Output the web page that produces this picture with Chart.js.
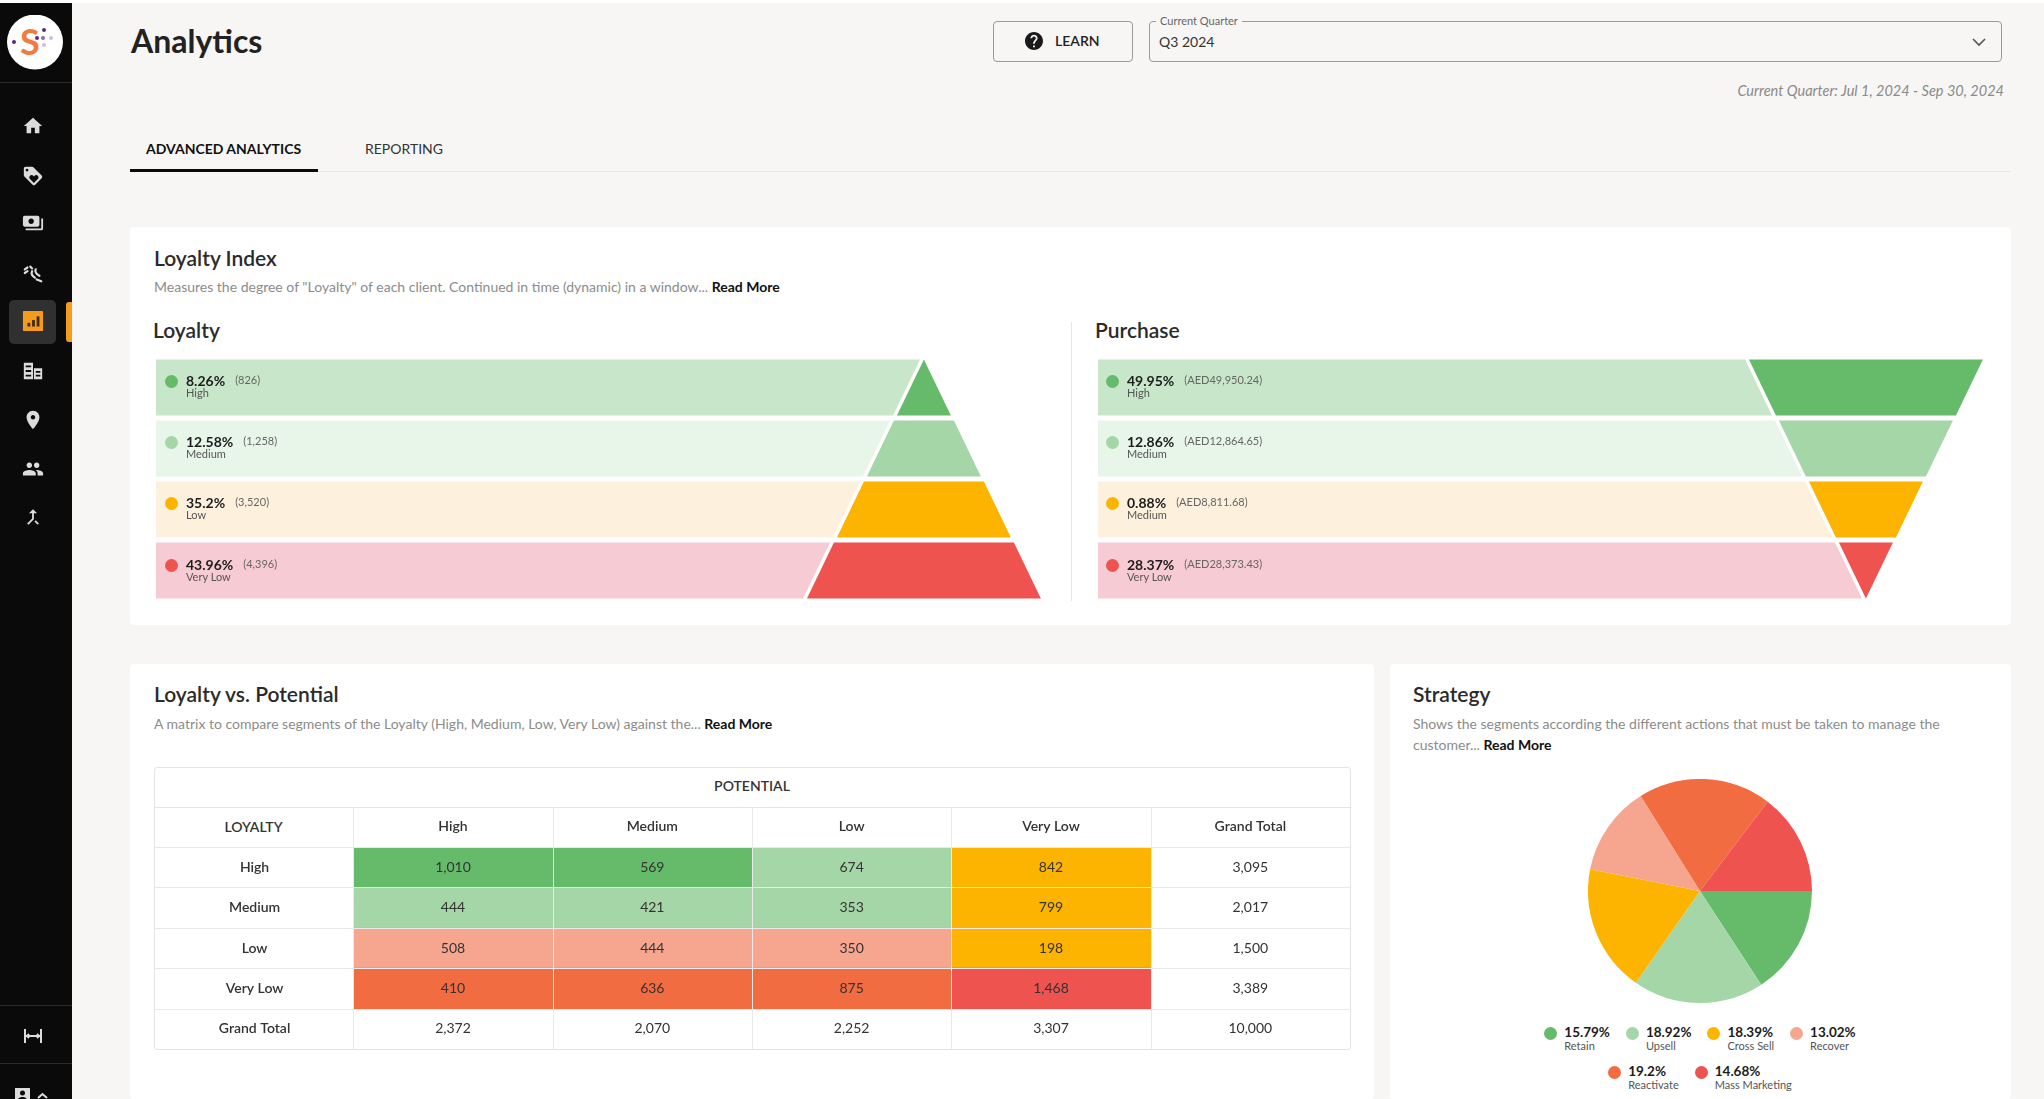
<!DOCTYPE html>
<html>
<head>
<meta charset="utf-8">
<title>Analytics</title>
<script src="https://cdn.jsdelivr.net/npm/chart.js@4"></script>
<style>
html, body { margin: 0; padding: 0; }
body { width: 2044px; height: 1099px; overflow: hidden; position: relative; background: #f7f6f4; font-family: Lato, sans-serif; color: #2b2b2b; }
.abs { position: absolute; white-space: nowrap; }
canvas { position: absolute; }
.card { position: absolute; background: #fff; border-radius: 4px; }
.h2 { position: absolute; white-space: nowrap; font-size: 21px; line-height: 24px; font-weight: 600; color: #2b2b2b; }
.desc { position: absolute; white-space: nowrap; font-size: 14px; line-height: 21px; color: #8c8c8c; }
.desc b { color: #111; font-weight: 700; }
.dot { position: absolute; width: 13px; height: 13px; border-radius: 50%; }
.pct { position: absolute; white-space: nowrap; font-size: 14px; line-height: 16px; font-weight: 700; color: #1c1c1c; }
.cnt { position: absolute; white-space: nowrap; font-size: 11px; line-height: 14px; color: #666; }
.seg { position: absolute; white-space: nowrap; font-size: 11px; line-height: 12px; color: #555; }
#sidebar { position: absolute; left: 0; top: 3px; width: 72px; height: 1096px; background: #0a0a0a; }
#sidebar svg { position: absolute; fill: #dcdcdc; }
#legend { position: absolute; left: 1500px; top: 1025px; width: 400px; display: flex; flex-wrap: wrap; justify-content: center; row-gap: 7.5px; }
#legend .item { position: relative; height: 24px; padding-left: 20px; margin: 0 8px; }
#legend .dot { left: 0; top: 2px; }
#legend .p { font-size: 13.5px; line-height: 15px; font-weight: 700; color: #1c1c1c; }
#legend .n { font-size: 11px; line-height: 12px; color: #555; }
</style>
</head>
<body>
<div class="abs" style="left:0;top:0;width:2044px;height:3px;background:#fff"></div>

<div id="sidebar">
  <svg style="left:7px;top:12px;fill:none" width="56" height="56" viewBox="0 0 56 56">
    <ellipse cx="28" cy="27" rx="28" ry="27.5" fill="#fff"/>
    <text x="13" y="40" font-family="Lato" font-size="36" font-weight="700" fill="#f47b3e">S</text>
    <circle cx="7" cy="27" r="2" fill="#5b2a86"/><circle cx="30" cy="23" r="2" fill="#5b2a86"/>
    <circle cx="37" cy="15" r="2" fill="#5b2a86"/><circle cx="36" cy="23" r="2" fill="#8d6bb0"/>
    <circle cx="44" cy="23" r="2" fill="#cdbfe0"/><circle cx="37" cy="30" r="2" fill="#cdbfe0"/>
  </svg>
  <div class="abs" style="left:0;top:79px;width:72px;height:1px;background:#2c2c2c"></div>
  <div class="abs" style="left:9px;top:297px;width:47px;height:44px;border-radius:5px;background:#303030"></div>
  <div class="abs" style="left:66px;top:299px;width:6px;height:40px;border-radius:3px 0 0 3px;background:#f59b1c"></div>
  <svg style="left:22px;top:112px" width="22" height="22" viewBox="0 0 24 24"><path d="M10 20v-6h4v6h5v-8h3L12 3 2 12h3v8z"/></svg>
  <svg style="left:22px;top:162px" width="22" height="22" viewBox="0 0 24 24"><path d="M21.41 11.58l-9-9C12.05 2.22 11.55 2 11 2H4c-1.1 0-2 .9-2 2v7c0 .55.22 1.05.59 1.42l9 9c.36.36.86.58 1.41.58.55 0 1.05-.22 1.41-.59l7-7c.37-.36.59-.86.59-1.41 0-.55-.23-1.06-.59-1.42zM5.5 7C4.67 7 4 6.33 4 5.5S4.67 4 5.5 4 7 4.67 7 5.5 6.33 7 5.5 7zm11.77 8.27L13 19.54l-4.27-4.27C8.28 14.81 8 14.19 8 13.5c0-1.38 1.12-2.5 2.5-2.5.69 0 1.32.28 1.77.74l.73.72.73-.73c.45-.45 1.08-.73 1.77-.73 1.38 0 2.5 1.12 2.5 2.5 0 .69-.28 1.32-.73 1.77z"/></svg>
  <svg style="left:22px;top:209px" width="22" height="22" viewBox="0 0 24 24"><path d="M19 14V6c0-1.1-.9-2-2-2H3c-1.1 0-2 .9-2 2v8c0 1.1.9 2 2 2h14c1.1 0 2-.9 2-2zm-9-1c-1.66 0-3-1.34-3-3s1.34-3 3-3 3 1.34 3 3-1.34 3-3 3zm13-6v11c0 1.1-.9 2-2 2H4v-2h17V7h2z"/></svg>
  <svg style="left:22px;top:259px;fill:none;stroke:#dcdcdc;stroke-width:2.4;stroke-linecap:round" width="22" height="22" viewBox="0 0 24 24"><path d="M3 8l3-2M3 12l3-2M9 5l2 2M11 10c-1 2 0 5 3 7M15 8c-1 2 0 5 4 7M16 19l5 2"/></svg>
  <svg style="left:22px;top:307px" width="22" height="22" viewBox="0 0 24 24"><rect x="1" y="1" width="22" height="22" rx="1" fill="#f59b1c"/><rect x="6" y="14" width="3" height="4" fill="#3a2a10"/><rect x="11" y="11" width="3" height="7" fill="#3a2a10"/><rect x="16" y="7" width="3" height="11" fill="#3a2a10"/></svg>
  <svg style="left:22px;top:357px" width="22" height="22" viewBox="0 0 24 24"><path d="M2 3h10v18H2zM4 6v2h6V6zM4 11v2h6v-2zM4 16v2h6v-2zM13 9h9v12h-9zM15 12v2h5v-2zM15 16v2h5v-2z" fill-rule="evenodd"/></svg>
  <svg style="left:22px;top:406px" width="22" height="22" viewBox="0 0 24 24"><path d="M12 2C8.13 2 5 5.13 5 9c0 5.25 7 13 7 13s7-7.75 7-13c0-3.87-3.13-7-7-7zm0 9.5c-1.38 0-2.5-1.12-2.5-2.5s1.12-2.5 2.5-2.5 2.5 1.12 2.5 2.5-1.12 2.5-2.5 2.5z"/></svg>
  <svg style="left:22px;top:455px" width="22" height="22" viewBox="0 0 24 24"><path d="M16 11c1.66 0 2.99-1.34 2.99-3S17.66 5 16 5c-1.66 0-3 1.34-3 3s1.34 3 3 3zm-8 0c1.66 0 2.99-1.34 2.99-3S9.66 5 8 5C6.34 5 5 6.34 5 8s1.34 3 3 3zm0 2c-2.33 0-7 1.17-7 3.5V19h14v-2.5c0-2.33-4.67-3.5-7-3.5zm8 0c-.29 0-.62.02-.97.05 1.16.84 1.97 1.97 1.97 3.45V19h6v-2.5c0-2.33-4.67-3.5-7-3.5z"/></svg>
  <svg style="left:22px;top:503px" width="22" height="22" viewBox="0 0 24 24"><path d="M17 20.41L18.41 19 15 15.59 13.59 17 17 20.41zM7.5 8H11v5.59L5.59 19 7 20.41l6-6V8h3.5L12 3.5 7.5 8z"/></svg>
  <div class="abs" style="left:0;top:1002px;width:72px;height:1px;background:#2c2c2c"></div>
  <svg style="left:23px;top:1023px;fill:none;stroke:#dcdcdc;stroke-width:2" width="20" height="20" viewBox="0 0 20 20"><path d="M2 3v14M18 3v14M3 10h14M6 8l-2 2 2 2M14 8l2 2-2 2"/></svg>
  <div class="abs" style="left:0;top:1060px;width:72px;height:1px;background:#2c2c2c"></div>
  <svg style="left:15px;top:1085px" width="15" height="14" viewBox="0 0 15 14"><path d="M0 0h15v14H0zM7.5 2.5a2.5 2.5 0 100 5 2.5 2.5 0 000-5zM3 12h9c0-2-2.5-3-4.5-3S3 10 3 12z" fill-rule="evenodd"/></svg>
  <svg style="left:37px;top:1089px;fill:none;stroke:#dcdcdc;stroke-width:2" width="11" height="8" viewBox="0 0 11 8"><path d="M1 6l4.5-4 4.5 4"/></svg>
</div>

<div class="abs" style="left:131px;top:20px;font-size:32px;line-height:42px;font-weight:700;color:#222">Analytics</div>

<div class="abs" style="left:993px;top:21px;width:138px;height:39px;border:1px solid #9a9a9a;border-radius:4px"></div>
<svg class="abs" style="left:1025px;top:32px" width="18" height="18" viewBox="2 2 20 20"><path fill="#1a1a1a" d="M12 2C6.48 2 2 6.48 2 12s4.48 10 10 10 10-4.48 10-10S17.52 2 12 2zm1 17h-2v-2h2v2zm2.07-7.75l-.9.92C13.45 12.9 13 13.5 13 15h-2v-.5c0-1.1.45-2.1 1.17-2.83l1.24-1.26c.37-.36.59-.86.59-1.41 0-1.1-.9-2-2-2s-2 .9-2 2H8c0-2.21 1.79-4 4-4s4 1.79 4 4c0 .88-.36 1.68-.93 2.25z"/></svg>
<div class="abs" style="left:1055px;top:32px;font-size:14px;line-height:18px;font-weight:600;color:#222">LEARN</div>

<div class="abs" style="left:1149px;top:21px;width:851px;height:39px;border:1px solid #9a9a9a;border-radius:4px"></div>
<div class="abs" style="left:1156px;top:14px;padding:0 4px;background:#f7f6f4;font-size:11px;line-height:13px;color:#666">Current Quarter</div>
<div class="abs" style="left:1159px;top:33px;font-size:14px;line-height:18px;color:#333">Q3 2024</div>
<svg class="abs" style="left:1972px;top:37px;fill:none;stroke:#555;stroke-width:1.6" width="14" height="10" viewBox="0 0 14 10"><path d="M1 2l6 6 6-6"/></svg>
<div class="abs" style="right:40px;top:82px;font-size:14.5px;line-height:18px;font-style:italic;color:#8a8a8a">Current Quarter: Jul 1, 2024 - Sep 30, 2024</div>

<div class="abs" style="left:146px;top:140px;font-size:14px;line-height:18px;font-weight:700;color:#111">ADVANCED ANALYTICS</div>
<div class="abs" style="left:365px;top:140px;font-size:14px;line-height:18px;color:#333">REPORTING</div>
<div class="abs" style="left:130px;top:171px;width:1881px;height:1px;background:#e8e8e6"></div>
<div class="abs" style="left:130px;top:169px;width:188px;height:3px;background:#0a0a0a"></div>

<div class="card" style="left:130px;top:227px;width:1881px;height:398px"></div>
<div class="h2" style="left:154px;top:246px">Loyalty Index</div>
<div class="desc" style="left:154px;top:276px">Measures the degree of "Loyalty" of each client. Continued in time (dynamic) in a window... <b>Read More</b></div>
<div class="h2" style="left:153px;top:318px">Loyalty</div>
<div class="abs" style="left:1071px;top:322px;width:1px;height:279px;background:#e6e6e6"></div>
<div class="h2" style="left:1095px;top:318px">Purchase</div>
<canvas id="loyaltyChart" width="890" height="244" style="left:156px;top:357px"></canvas>
<canvas id="purchaseChart" width="890" height="244" style="left:1098px;top:357px"></canvas>
<div id="loyaltyRows"></div>
<div id="purchaseRows"></div>

<div class="card" style="left:130px;top:664px;width:1244px;height:435px"></div>
<div class="h2" style="left:154px;top:682px">Loyalty vs. Potential</div>
<div class="desc" style="left:154px;top:713px">A matrix to compare segments of the Loyalty (High, Medium, Low, Very Low) against the... <b>Read More</b></div>
<div class="abs" style="left:154px;top:767px;width:1195px;height:281px;border:1px solid #e4e4e4;border-radius:3px"></div>
<div class="abs" style="left:154px;top:807px;width:1196px;height:1px;background:#e4e4e4"></div>
<div class="abs" style="left:154px;top:777px;width:1196px;text-align:center;font-size:14px;line-height:18px;font-weight:600;color:#333">POTENTIAL</div>
<div class="abs" style="left:154px;top:818px;width:199px;text-align:center;font-size:14px;line-height:18px;font-weight:600;color:#333">LOYALTY</div>
<canvas id="matrixChart" width="1196" height="242" style="left:154px;top:807px"></canvas>

<div class="card" style="left:1390px;top:664px;width:621px;height:435px"></div>
<div class="h2" style="left:1413px;top:682px">Strategy</div>
<div class="desc" style="left:1413px;top:713px">Shows the segments according the different actions that must be taken to manage the<br>customer... <b>Read More</b></div>
<canvas id="strategyChart" width="224" height="224" style="left:1588px;top:779px"></canvas>
<div id="legend"></div>

<script>
// loyalty / purchase tiers
const levels = ['High', 'Medium', 'Low', 'Very Low'];
const purchaseLevels = ['High', 'Medium', 'Medium', 'Very Low'];
const loyaltyShare = ['8.26%', '12.58%', '35.2%', '43.96%'];
const loyaltyCount = ['(826)', '(1,258)', '(3,520)', '(4,396)'];
const purchaseShare = ['49.95%', '12.86%', '0.88%', '28.37%'];
const purchaseAmount = ['(AED49,950.24)', '(AED12,864.65)', '(AED8,811.68)', '(AED28,373.43)'];
const pyramidTiers = [0.9, 1.9, 2.9, 3.9];
const funnelTiers = [3.9, 2.9, 1.9, 0.9];

// loyalty vs potential
const potentialLabels = ['High', 'Medium', 'Low', 'Very Low', 'Grand Total'];
const loyaltyLabels = ['High', 'Medium', 'Low', 'Very Low', 'Grand Total'];
const potentialHigh = [1010, 444, 508, 410, 2372];
const potentialMedium = [569, 421, 444, 636, 2070];
const potentialLow = [674, 353, 350, 875, 2252];
const potentialVeryLow = [842, 799, 198, 1468, 3307];
const potentialTotal = [3095, 2017, 1500, 3389, 10000];

// strategy
const strategyLabels = ['Retain', 'Upsell', 'Cross Sell', 'Recover', 'Reactivate', 'Mass Marketing'];
const strategyValues = [15.79, 18.92, 18.39, 13.02, 19.2, 14.68];

const green = '#66bb6a', lightGreen = '#a5d6a7', amber = '#fcb400', salmon = '#f6a68f', orange = '#f26c41', red = '#ef5350';
const tierColors = [green, lightGreen, amber, red];
const paleColors = ['#c8e6c9', '#e8f5e9', '#fdf1de', '#f7cbd3'];
const strategyColors = [green, lightGreen, amber, salmon, orange, red];
const cellColors = [
    [green, green, lightGreen, amber, 'transparent'],
    [lightGreen, lightGreen, lightGreen, amber, 'transparent'],
    [salmon, salmon, salmon, amber, 'transparent'],
    [orange, orange, orange, red, 'transparent'],
    ['transparent', 'transparent', 'transparent', 'transparent', 'transparent']
];

const axisMin = -25.6;
const axisMax = 4.07;
const tierDepth = 0.9;
const bandGap = 0.13;

// bars of the tier charts get slanted sides, the row keeps its scale extents
const slantPlugin = {
    id: 'slant',
    beforeDatasetDraw(chart, args) {
        const ctx = chart.ctx;
        const x = chart.scales.x;
        const wideOnTop = chart.options.plugins.slant.wideOnTop;
        const ds = chart.data.datasets[args.index];
        args.meta.data.forEach((bar, i) => {
            const lo = ds.data[i][0];
            const hi = ds.data[i][1];
            const yTop = bar.y - bar.height / 2;
            const yBottom = bar.y + bar.height / 2;
            // narrow end of the row on the right, and on the left for the coloured tiers
            const right = x.getPixelForValue(hi);
            const left = x.getPixelForValue(lo);
            const isTier = ds.kind == 'tier';
            const nRight = x.getPixelForValue(hi > 0 ? hi - tierDepth : hi + tierDepth);
            const nLeft = isTier ? x.getPixelForValue(lo + tierDepth) : left;
            const points = wideOnTop
                ? [[left, yTop], [right, yTop], [nRight, yBottom], [nLeft, yBottom]]
                : [[nLeft, yTop], [nRight, yTop], [right, yBottom], [left, yBottom]];
            ctx.save();
            ctx.fillStyle = ds.backgroundColor[i];
            ctx.beginPath();
            points.forEach((p, k) => {
                if (k == 0) ctx.moveTo(p[0], p[1]);
                else ctx.lineTo(p[0], p[1]);
            });
            ctx.closePath();
            ctx.fill();
            ctx.restore();
        });
        return false;
    }
};

function tierChart(id, tiers, wideOnTop) {
    return new Chart(id, {
        type: 'bar',
        data: {
            labels: levels,
            datasets: [
                { kind: 'band', data: tiers.map(w => [axisMin, -w - bandGap]), backgroundColor: paleColors, barPercentage: 0.915, categoryPercentage: 1, grouped: false },
                { kind: 'tier', data: tiers.map(w => [-w, w]), backgroundColor: tierColors, barPercentage: 0.915, categoryPercentage: 1, grouped: false }
            ]
        },
        options: {
            indexAxis: 'y',
            responsive: false,
            animation: false,
            layout: { padding: 0 },
            scales: {
                x: { type: 'linear', min: axisMin, max: axisMax, display: false },
                y: { display: false }
            },
            plugins: { legend: { display: false }, tooltip: { enabled: false }, slant: { wideOnTop: wideOnTop } }
        },
        plugins: [slantPlugin]
    });
}

tierChart('loyaltyChart', pyramidTiers, false);
tierChart('purchaseChart', funnelTiers, true);

function addRows(boxId, left, shares, counts, names) {
    const box = document.getElementById(boxId);
    shares.forEach((share, i) => {
        const y = 381 + i * 61.2;
        const pct = document.createElement('div');
        pct.className = 'pct';
        pct.style.left = (left + 30) + 'px';
        pct.style.top = (y - 8) + 'px';
        pct.textContent = share;
        box.appendChild(pct);
        const dot = document.createElement('div');
        dot.className = 'dot';
        dot.style.left = (left + 9) + 'px';
        dot.style.top = (y - 6) + 'px';
        dot.style.background = tierColors[i];
        box.appendChild(dot);
        const seg = document.createElement('div');
        seg.className = 'seg';
        seg.style.left = (left + 30) + 'px';
        seg.style.top = (y + 6) + 'px';
        seg.textContent = names[i];
        box.appendChild(seg);
        const cnt = document.createElement('div');
        cnt.className = 'cnt';
        cnt.style.left = (left + 30 + pct.getBoundingClientRect().width + 10) + 'px';
        cnt.style.top = (y - 8) + 'px';
        cnt.textContent = counts[i];
        box.appendChild(cnt);
    });
}

addRows('loyaltyRows', 156, loyaltyShare, loyaltyCount, levels);
addRows('purchaseRows', 1097, purchaseShare, purchaseAmount, purchaseLevels);

// table lines and numbers sit on top of the coloured cells
const cellPlugin = {
    id: 'cells',
    afterDatasetsDraw(chart) {
        const ctx = chart.ctx;
        const x = chart.scales.x;
        const y = chart.scales.y;
        ctx.save();
        ctx.strokeStyle = '#e9e9e9';
        ctx.lineWidth = 1;
        ctx.beginPath();
        for (let c = 0; c < potentialLabels.length; c++) {
            const px = Math.round(x.getPixelForValue(c)) + 0.5;
            ctx.moveTo(px, 0);
            ctx.lineTo(px, chart.height);
        }
        for (let r = 0; r < loyaltyLabels.length; r++) {
            const py = Math.round(y.getPixelForValue(r - 0.5)) + 0.5;
            ctx.moveTo(0, py);
            ctx.lineTo(chart.width, py);
        }
        ctx.stroke();
        ctx.fillStyle = '#333';
        ctx.font = '14px Lato';
        ctx.textAlign = 'center';
        ctx.textBaseline = 'middle';
        chart.data.datasets.forEach((ds, d) => {
            chart.getDatasetMeta(d).data.forEach((bar, i) => {
                ctx.fillText(ds.values[i].toLocaleString('en-US'), (bar.base + bar.x) / 2, bar.y);
            });
        });
        ctx.restore();
    }
};

const columns = [potentialHigh, potentialMedium, potentialLow, potentialVeryLow, potentialTotal];

new Chart('matrixChart', {
    type: 'bar',
    data: {
        labels: loyaltyLabels,
        datasets: columns.map((values, c) => ({
            label: potentialLabels[c],
            values: values,
            data: values.map(() => [c, c + 1]),
            backgroundColor: cellColors.map(row => row[c]),
            barPercentage: 1,
            categoryPercentage: 1,
            grouped: false
        }))
    },
    options: {
        indexAxis: 'y',
        responsive: false,
        animation: false,
        layout: { padding: 0 },
        scales: {
            x: { type: 'linear', min: 0, max: 5, display: false },
            potential: {
                axis: 'x',
                type: 'category',
                position: 'top',
                labels: potentialLabels,
                offset: true,
                grid: { display: false, drawTicks: false },
                border: { display: false },
                ticks: { autoSkip: false, maxRotation: 0, padding: 12, color: '#333', font: { family: 'Lato', size: 14, weight: '600' } },
                afterFit(scale) { scale.height = 40; }
            },
            y: {
                position: 'left',
                grid: { display: false, drawTicks: false },
                border: { display: false },
                ticks: { crossAlign: 'center', padding: 63, color: '#333', font: { family: 'Lato', size: 14, weight: '600' } },
                afterFit(scale) {
                    scale.width = 199.3;
                    scale.paddingTop = 0;
                    scale.paddingBottom = 0;
                }
            }
        },
        plugins: { legend: { display: false }, tooltip: { enabled: false } }
    },
    plugins: [cellPlugin]
});

new Chart('strategyChart', {
    type: 'pie',
    data: {
        labels: strategyLabels,
        datasets: [{ data: strategyValues, backgroundColor: strategyColors, borderWidth: 0 }]
    },
    options: {
        responsive: false,
        animation: false,
        rotation: 90,
        layout: { padding: 0 },
        plugins: { legend: { display: false }, tooltip: { enabled: false } }
    }
});

const legendBox = document.getElementById('legend');
strategyLabels.forEach((name, i) => {
    const item = document.createElement('div');
    item.className = 'item';
    item.innerHTML = '<div class="dot" style="background:' + strategyColors[i] + '"></div><div class="p">' + strategyValues[i] + '%</div><div class="n">' + name + '</div>';
    legendBox.appendChild(item);
    if (i == 3) {
        const brk = document.createElement('div');
        brk.style.width = '100%';
        legendBox.appendChild(brk);
    }
});
</script>
</body>
</html>
